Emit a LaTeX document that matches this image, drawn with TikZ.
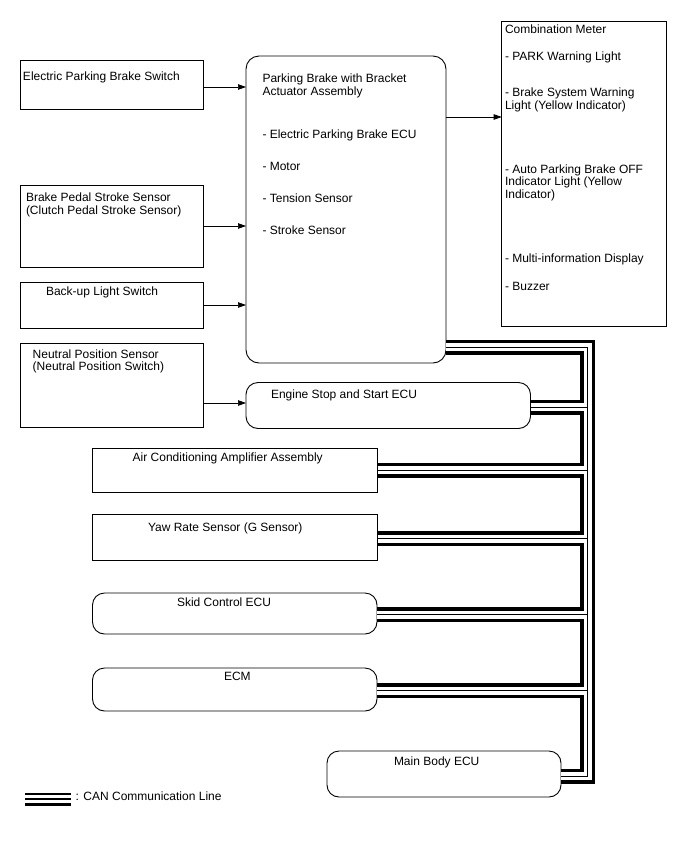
\documentclass[tikz,border=0pt]{standalone}
\usepackage{fontspec}
\setmainfont{Liberation Sans}
\usetikzlibrary{arrows.meta}
\newcommand\firststrut{\rule{0pt}{9pt}}
\begin{document}
\begin{tikzpicture}[x=1pt,y=-1pt,
  box/.style={draw,line width=0.9pt,rectangle,inner sep=0pt,outer sep=0pt,anchor=north west},
  rbox/.style={box,rounded corners=12pt},
  txt/.style={anchor=base west,inner sep=0pt,outer sep=0pt,align=left,font=\fontsize{12}{12.6}\selectfont},
  mtxt/.style={txt,anchor=north west},
  arr/.style={line width=0.7pt,-{Triangle[length=8pt,width=5.5pt]}},
  canA/.style={line width=15pt,line join=miter,black},
  canB/.style={line width=8pt,line join=miter,white},
  canC/.style={line width=1pt,line join=miter,black}]
\useasboundingbox[fill=white] (0,0) rectangle (688,852);

% boxes
\node[box,minimum width=182.3pt,minimum height=49pt] (sw) at (20.7,60) {};
\node[rbox,rounded corners=13pt,minimum width=200pt,minimum height=307pt] (pb) at (246,56) {};
\node[box,minimum width=165pt,minimum height=305pt] (meter) at (501.7,21.7) {};
\node[box,minimum width=182.3pt,minimum height=82pt] (bp) at (20.7,185) {};
\node[box,minimum width=182.3pt,minimum height=46pt] (bu) at (20.7,282) {};
\node[box,minimum width=182.3pt,minimum height=84pt] (ns) at (20.7,343) {};
\node[rbox,minimum width=284.5pt,minimum height=46pt] (es) at (246,382.5) {};
\node[box,minimum width=285pt,minimum height=44.5pt] (ac) at (92.5,448) {};
\node[box,minimum width=285pt,minimum height=46pt] (yr) at (92.5,514) {};
\node[rbox,minimum width=284.5pt,minimum height=41pt] (sk) at (92.5,593) {};
\node[rbox,minimum width=284.5pt,minimum height=43pt] (ecm) at (92.5,668) {};
\node[rbox,minimum width=234pt,minimum height=46pt] (mb) at (327,751) {};

% texts
\node[txt] (swt) at (23,80) {Electric Parking Brake Switch};
\node[mtxt] (pbt) at (262.5,73.5) {\firststrut Parking Brake with Bracket\\Actuator Assembly\\[30.4pt]- Electric Parking Brake ECU\\[19.4pt]- Motor\\[19.4pt]- Tension Sensor\\[19.4pt]- Stroke Sensor};
\node[mtxt] (metert) at (505,24) {\firststrut Combination Meter\\[14.4pt]- PARK Warning Light\\[24.1pt]- Brake System Warning\\Light (Yellow Indicator)\\[51.4pt]- Auto Parking Brake OFF\\Indicator Light (Yellow\\Indicator)\\[51.8pt]- Multi-information Display\\[14.7pt]- Buzzer};
\node[mtxt] (bpt) at (26,192.7) {\firststrut Brake Pedal Stroke Sensor\\(Clutch Pedal Stroke Sensor)};
\node[txt] (but) at (46,295.7) {Back-up Light Switch};
\node[mtxt] (nst) at (32.7,349) {\firststrut Neutral Position Sensor\\(Neutral Position Switch)};
\node[txt] (est) at (271,398) {Engine Stop and Start ECU};
\node[txt] (act) at (132.7,461.7) {Air Conditioning Amplifier Assembly};
\node[txt] (yrt) at (148,531.7) {Yaw Rate Sensor (G Sensor)};
\node[txt] (skt) at (177,606) {Skid Control ECU};
\node[txt] (ecmt) at (224,680) {ECM};
\node[txt] (mbt) at (394,765.7) {Main Body ECU};
\node[txt] (lgt) at (75.7,800.7) {: CAN Communication Line};

% arrows
\coordinate (ya) at (0,87);
\coordinate (yb) at (0,117);
\coordinate (yc) at (0,403);
\draw[arr] (sw.east |- ya) -- (pb.west |- ya);
\draw[arr] (bp.east) -- (bp.east -| pb.west);
\draw[arr] (bu.east) -- (bu.east -| pb.west);
\draw[arr] (ns.east |- yc) -- (es.west |- yc);
\draw[arr] (pb.east |- yb) -- (meter.west |- yb);

% CAN bus
\coordinate (bt) at (587.5,347);
\coordinate (bb) at (587.5,776);
\coordinate (j1) at (587.5,407);
\coordinate (j2) at (587.5,470);
\coordinate (j3) at (587.5,538.5);
\coordinate (j4) at (587.5,614.5);
\coordinate (j5) at (587.5,690.5);
\foreach \s in {canA,canB,canC}{
  \draw[\s] (pb.east |- bt) -- (bt) -- (bb) -- (mb.east |- bb);
  \draw[\s] (es.east |- j1) -- (j1);
  \draw[\s] (ac.east |- j2) -- (j2);
  \draw[\s] (yr.east |- j3) -- (j3);
  \draw[\s] (sk.east |- j4) -- (j4);
  \draw[\s] (ecm.east |- j5) -- (j5);
}

% legend symbol
\draw[line width=2.2pt] (25,794.2) -- (71,794.2);
\draw[line width=1.2pt] (25,799) -- (71,799);
\draw[line width=2.5pt] (25,804.3) -- (71,804.3);
\end{tikzpicture}
\end{document}
